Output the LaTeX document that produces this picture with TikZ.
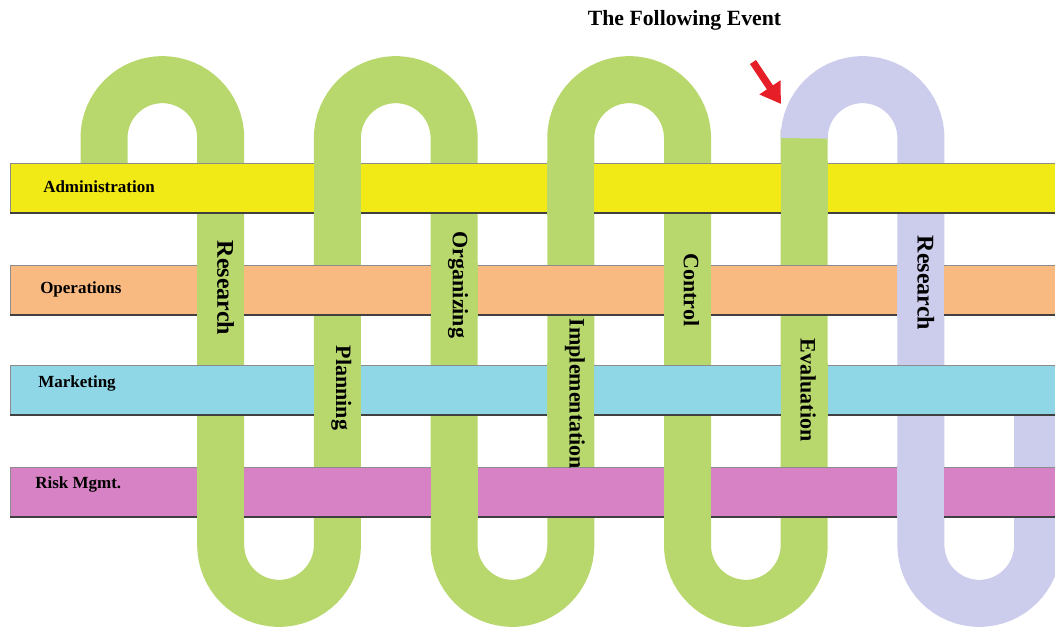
\documentclass[tikz,border=0pt]{standalone}
\usepackage{fontspec}
\setmainfont{Liberation Serif}
\usetikzlibrary{arrows.meta,calc}

\definecolor{bandgreen}{RGB}{184,216,110}
\definecolor{bandlilac}{RGB}{204,204,236}
\definecolor{adminyellow}{RGB}{242,234,22}
\definecolor{opsorange}{RGB}{249,186,130}
\definecolor{mktcyan}{RGB}{143,214,230}
\definecolor{riskpink}{RGB}{214,130,196}
\definecolor{eventred}{RGB}{230,30,40}

\begin{document}
\begin{tikzpicture}[>=Stealth,x=0.75pt,y=-0.75pt,
  band/.style={line width=35.25pt},
  bar/.style={draw=black!45,line width=0.6pt},
  barlabel/.style={anchor=base west,inner sep=0pt,font=\fontsize{12.75}{15}\selectfont\bfseries},
  steplabel/.style={rotate=-90,font=\fontsize{16.5}{18}\selectfont\bfseries}]
  % Parameters
  \def\T{138}    % centre of the top bends
  \def\B{545}    % centre of the bottom bends
  \def\r{58.35}  % bend radius
  \def\h{23.5}   % half width of the band
  \def\L{10}     % left end of the bars
  \def\E{1070}   % right end of the bars

  % Column centres
  \def\ca{104}
  \def\cb{220.7}
  \def\cc{337.4}
  \def\cd{454.1}
  \def\ce{570.8}
  \def\cf{687.5}
  \def\cg{804.2}
  \def\ch{920.9}
  \def\ci{1037.6}

  \useasboundingbox (0,0) rectangle (1055,626);
  \clip (0,0) rectangle (1055,626);

  % Green band: research -> evaluation
  \draw[band,bandgreen] (\ca,190) -- (\ca,\T) arc[start angle=180,end angle=360,radius=\r]
    -- (\cb,\B) arc[start angle=180,end angle=0,radius=\r]
    -- (\cc,\T) arc[start angle=180,end angle=360,radius=\r]
    -- (\cd,\B) arc[start angle=180,end angle=0,radius=\r]
    -- (\ce,\T) arc[start angle=180,end angle=360,radius=\r]
    -- (\cf,\B) arc[start angle=180,end angle=0,radius=\r]
    -- (\cg,130);
  % Lilac band: the following event
  \draw[band,bandlilac] (\cg,130) -- (\cg,\T) arc[start angle=180,end angle=360,radius=\r]
    -- (\ch,\B) arc[start angle=180,end angle=0,radius=\r]
    -- (\ci,390);

  % Bars
  \fill[bar,fill=adminyellow] (\L,163) rectangle (\E,213);
  \fill[bar,fill=opsorange] (\L,265) rectangle (\E,315);
  \fill[bar,fill=mktcyan] (\L,365) rectangle (\E,415);
  \fill[bar,fill=riskpink] (\L,467) rectangle (\E,517);
  \draw[bar] (\L,163) rectangle (\E,213);
  \draw[bar] (\L,265) rectangle (\E,315);
  \draw[bar] (\L,365) rectangle (\E,415);
  \draw[bar] (\L,467) rectangle (\E,517);
  \draw[black!75,line width=1.2pt] (\L,213) -- (\E,213);
  \draw[black!75,line width=1.2pt] (\L,315) -- (\E,315);
  \draw[black!75,line width=1.2pt] (\L,415) -- (\E,415);
  \draw[black!75,line width=1.2pt] (\L,517) -- (\E,517);

  % Band passing over the bars
  \fill[bandgreen] (\cc-\h,161) rectangle (\cc+\h,215);
  \fill[bandgreen] (\ce-\h,161) rectangle (\ce+\h,215);
  \fill[bandgreen] (\cg-\h,161) rectangle (\cg+\h,215);
  \fill[bandgreen] (\cb-\h,263) rectangle (\cb+\h,317);
  \fill[bandgreen] (\cd-\h,263) rectangle (\cd+\h,317);
  \fill[bandgreen] (\cf-\h,263) rectangle (\cf+\h,317);
  \fill[bandlilac] (\ch-\h,263) rectangle (\ch+\h,317);
  \fill[bandgreen] (\cc-\h,363) rectangle (\cc+\h,417);
  \fill[bandgreen] (\ce-\h,363) rectangle (\ce+\h,417);
  \fill[bandgreen] (\cg-\h,363) rectangle (\cg+\h,417);
  \fill[bandgreen] (\cb-\h,465) rectangle (\cb+\h,519);
  \fill[bandgreen] (\cd-\h,465) rectangle (\cd+\h,519);
  \fill[bandgreen] (\cf-\h,465) rectangle (\cf+\h,519);
  \fill[bandlilac] (\ch-\h,465) rectangle (\ch+\h,519);

  % Bar labels
  \node[barlabel] (admin) at (43,192) {Administration};
  \node[barlabel] (ops) at (40,293) {Operations};
  \node[barlabel] (mkt) at (38,387) {Marketing};
  \node[barlabel] (risk) at (35,488) {Risk Mgmt.};

  % Step labels on the band
  \node[steplabel,font=\fontsize{18}{20}\selectfont\bfseries] (research) at (\cb+5,288) {Research};
  \node[steplabel] (planning) at (\cc+4,388) {Planning};
  \node[steplabel] (organizing) at (\cd+4,285) {Organizing};
  \node[steplabel] (implementation) at (\ce+4,394) {Implementation};
  \node[steplabel] (control) at (\cf+4,290) {Control};
  \node[steplabel] (evaluation) at (\cg+4,390) {Evaluation};
  \node[steplabel,font=\fontsize{18}{20}\selectfont\bfseries] (research2) at (\ch+5,283) {Research};

  % Title and pointer
  \node[font=\fontsize{16.3}{18}\selectfont\bfseries] (event) at (684.5,20) {The Following Event};
  \coordinate (tail) at (753,62);
  \coordinate (tip) at (781,104);
  \draw[eventred,line width=5.5pt,-{Triangle[length=15pt,width=18pt]}] (tail) -- (tip);

\end{tikzpicture}
\end{document}
